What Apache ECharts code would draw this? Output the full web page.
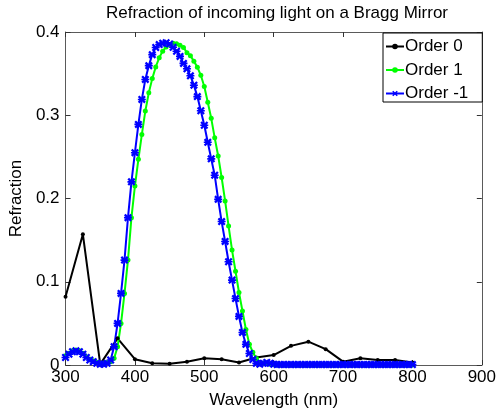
<!DOCTYPE html>
<html><head><meta charset="utf-8">
<script src="https://cdn.jsdelivr.net/npm/echarts@6/dist/echarts.min.js"></script>
<style>html,body{margin:0;padding:0;background:#fff}#c{width:499px;height:414px}</style>
</head><body><div id="c"></div>
<script>
const titleText = 'Refraction of incoming light on a Bragg Mirror';
const xName = 'Wavelength (nm)';
const yName = 'Refraction';
const seriesNames = ['Order 0', 'Order 1', 'Order -1'];

// Order 0 samples (25 nm grid)
const wlCoarse = [300,325,350,375,400,425,450,475,500,525,550,575,600,625,650,675,700,725,750,775,800];
const order0 = [0.082,0.157,0.001,0.032,0.007,0.002,0.0015,0.004,0.008,0.007,0.003,0.009,0.012,0.023,0.028,0.019,0.004,0.008,0.006,0.006,0.003];

// Order 1 / Order -1 samples (5 nm grid)
const wlFine = [300,305,310,315,320,325,330,335,340,345,350,355,360,365,370,375,380,385,390,395,
  400,405,410,415,420,425,430,435,440,445,450,455,460,465,470,475,480,485,490,495,
  500,505,510,515,520,525,530,535,540,545,550,555,560,565,570,575,580,585,590,595,
  600,605,610,615,620,625,630,635,640,645,650,655,660,665,670,675,680,685,690,695,
  700,705,710,715,720,725,730,735,740,745,750,755,760,765,770,775,780,785,790,795,800];
const order1 = [0.011,0.014,0.017,0.018,0.017,0.014,0.010,0.007,0.005,0.003,0.002,0.002,0.003,0.004,0.008,0.022,0.050,0.086,0.126,0.177,
  0.215,0.247,0.277,0.305,0.327,0.344,0.358,0.369,0.377,0.382,0.385,0.3865,0.386,0.384,0.3815,0.375,0.3716,0.3648,0.3578,0.348,
  0.3346,0.3157,0.2963,0.2729,0.2511,0.2252,0.1971,0.1669,0.138,0.1126,0.0871,0.0649,0.0427,0.025,0.0152,0.0078,0.003,0.002,0.002,0.001,
  0.0005,0,0,0,0,0,0,0,0,0,0,0,0,0,0,0,0,0,0,0,
  0,0,0,0,0,0,0,0,0,0,0,0,0,0,0,0,0,0,0,0,0];
const orderM1 = [0.009,0.013,0.016,0.017,0.016,0.013,0.009,0.006,0.004,0.002,0.001,0.001,0.002,0.006,0.022,0.050,0.086,0.126,0.177,0.220,
  0.255,0.289,0.319,0.343,0.3596,0.3728,0.3814,0.3849,0.3866,0.3871,0.3856,0.3816,0.3769,0.3707,0.3623,0.3558,0.3474,0.3361,0.3224,0.3054,
  0.288,0.2675,0.2476,0.228,0.199,0.1723,0.1484,0.124,0.102,0.0798,0.0584,0.0391,0.0248,0.0138,0.0066,0.002,0.001,0.002,0.003,0.002,
  0.001,0.0005,0.0005,0.0005,0.0005,0.0005,0.0005,0.0005,0.0005,0.0005,0.0005,0.0005,0.0005,0.0005,0.0005,0.0005,0.0005,0.0005,0.0005,0.0005,
  0.0005,0.0005,0.0005,0.0005,0.0005,0.0005,0.0005,0.0005,0.0005,0.0005,0.0005,0.0005,0.0005,0.0005,0.0005,0.0005,0.0005,0.0005,0.0005,0.0005,0.0005];

const xTicks = [300,400,500,600,700,800,900];
const yTicks = [0,0.1,0.2,0.3,0.4];

const pair = (xs, ys) => xs.map((x, i) => [x, ys[i]]);
const FONT = '"Liberation Sans", Arial, Helvetica, sans-serif';
const FS = 17;
const starPath = 'path://M0,2 L2,0 L5,3 L8,0 L10,2 L7,5 L10,8 L8,10 L5,7 L2,10 L0,8 L3,5 Z M0,4 L10,4 L10,6 L0,6 Z';

const chart = echarts.init(document.getElementById('c'), null, {renderer: 'canvas'});
const axisCommon = {
  axisLine: {show: true, onZero: false, lineStyle: {color: '#5a5a5a', width: 1}},
  axisTick: {show: true, inside: true, length: 5, lineStyle: {color: '#333', width: 1}},
  splitLine: {show: false}
};
chart.setOption({
  animation: false,
  backgroundColor: '#fff',
  title: {text: titleText, left: 272, textAlign: 'center', top: 0,
    textStyle: {fontFamily: FONT, fontSize: FS, fontWeight: 'normal', color: '#000'}},
  legend: {
    orient: 'vertical', left: 383, top: 33,
    data: seriesNames,
    backgroundColor: '#fff', borderColor: '#000', borderWidth: 1,
    padding: [5, 14, 0, 2], itemGap: 6.5, itemWidth: 18, itemHeight: 7,
    textStyle: {fontFamily: FONT, fontSize: FS, color: '#000', lineHeight: 17, padding: [0,0,0,-4]}
  },
  grid: {left: 58, right: 16, top: 32, bottom: 48},
  xAxis: [
    Object.assign({type: 'value', min: xTicks[0], max: xTicks[xTicks.length-1], interval: 100,
      name: xName, nameLocation: 'middle', nameGap: 27,
      nameTextStyle: {fontFamily: FONT, fontSize: FS, color: '#000'},
      axisLabel: {fontFamily: FONT, fontSize: FS, color: '#000', margin: 4}}, axisCommon),
    Object.assign({type: 'value', position: 'top', min: xTicks[0], max: xTicks[xTicks.length-1], interval: 100,
      axisLabel: {show: false}}, axisCommon)
  ],
  yAxis: [
    Object.assign({type: 'value', min: yTicks[0], max: yTicks[yTicks.length-1], interval: 0.1,
      name: yName, nameLocation: 'middle', nameGap: 38, nameRotate: 90,
      nameTextStyle: {fontFamily: FONT, fontSize: FS, color: '#000'},
      axisLabel: {fontFamily: FONT, fontSize: FS, color: '#000', margin: 6,
        formatter: v => v === 0 ? '0' : v.toFixed(1)}}, axisCommon),
    Object.assign({type: 'value', position: 'right', min: yTicks[0], max: yTicks[yTicks.length-1], interval: 0.1,
      axisLabel: {show: false}}, axisCommon)
  ],
  series: [
    {name: seriesNames[0], type: 'line', data: pair(wlCoarse, order0),
      symbol: 'circle', symbolSize: 4, showAllSymbol: true,
      lineStyle: {color: '#000', width: 2}, itemStyle: {color: '#000'}},
    {name: seriesNames[1], type: 'line', data: pair(wlFine, order1),
      symbol: 'circle', symbolSize: 5, showAllSymbol: true,
      lineStyle: {color: '#00ff00', width: 2}, itemStyle: {color: '#00ff00'}},
    {name: seriesNames[2], type: 'line', data: pair(wlFine, orderM1),
      symbol: starPath, symbolSize: 8, showAllSymbol: true,
      lineStyle: {color: '#0000ff', width: 2}, itemStyle: {color: '#0000ff'}}
  ]
});
</script></body></html>
